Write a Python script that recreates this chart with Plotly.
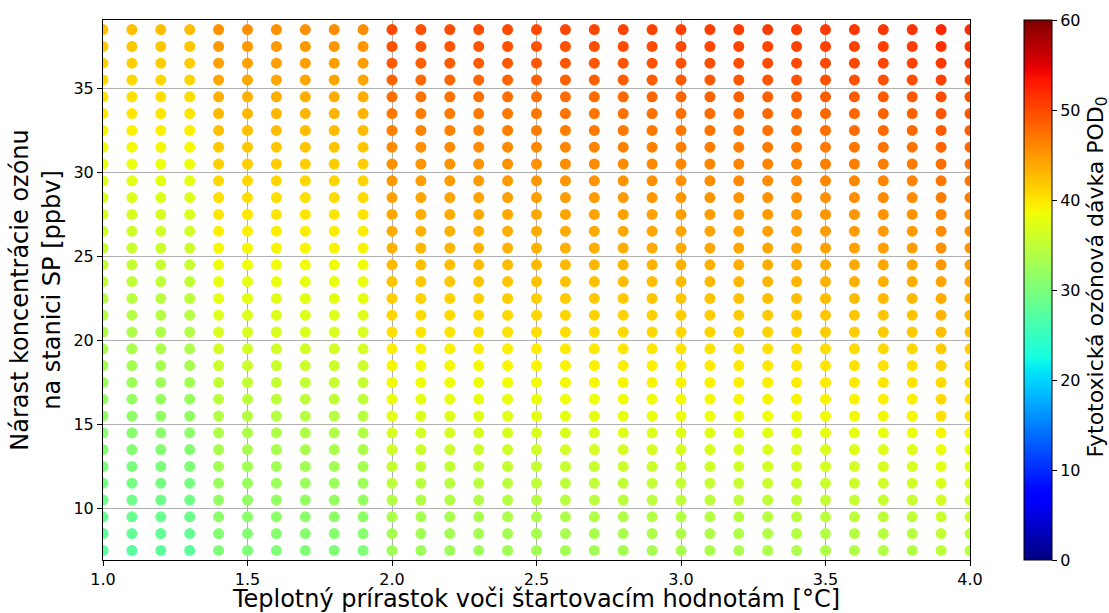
import numpy as np
import plotly.graph_objects as go

# x: temperature increment [°C]
x_vals = [1.0, 1.1, 1.2, 1.3, 1.4, 1.5, 1.6, 1.7, 1.8, 1.9, 2.0, 2.1, 2.2, 2.3, 2.4, 2.5,
          2.6, 2.7, 2.8, 2.9, 3.0, 3.1, 3.2, 3.3, 3.4, 3.5, 3.6, 3.7, 3.8, 3.9, 4.0]
# y: ozone concentration increase [ppbv]
y_vals = [7.5, 8.5, 9.5, 10.5, 11.5, 12.5, 13.5, 14.5, 15.5, 16.5, 17.5, 18.5, 19.5, 20.5, 21.5, 22.5,
          23.5, 24.5, 25.5, 26.5, 27.5, 28.5, 29.5, 30.5, 31.5, 32.5, 33.5, 34.5, 35.5, 36.5, 37.5, 38.5]

# POD0 values, one row per y value (bottom to top), one column per x value
pod0 = [
 [27.4,27.5,27.6,27.7, 30.2,30.2,30.3,30.3,30.4,30.4, 32.6,32.3,32.4,32.5,32.6,32.7,32.8,32.9,33.0,33.1,33.2,33.3,33.4,33.5,33.6,33.7,33.8,33.9,34.0,34.8,34.6],
 [27.9,28.0,28.1,28.2, 30.7,30.7,30.8,30.8,30.9,30.9, 33.0,32.7,32.8,32.9,33.0,33.1,33.2,33.3,33.4,33.5,33.6,33.7,33.8,33.9,34.0,34.1,34.2,34.3,34.4,35.2,35.0],
 [28.4,28.5,28.6,28.7, 31.2,31.2,31.3,31.3,31.4,31.4, 33.5,33.2,33.3,33.4,33.5,33.6,33.7,33.8,33.9,34.0,34.1,34.2,34.3,34.4,34.5,34.6,34.7,34.8,34.9,35.7,35.5],
 [28.9,29.0,29.1,29.2, 31.7,31.7,31.8,31.8,31.9,31.9, 34.1,33.8,33.9,34.0,34.1,34.2,34.3,34.4,34.5,34.6,34.7,34.8,34.9,35.0,35.1,35.2,35.3,35.4,35.5,36.3,36.1],
 [29.4,29.5,29.6,29.7, 32.2,32.2,32.3,32.3,32.4,32.4, 34.7,34.4,34.5,34.6,34.7,34.8,34.9,35.0,35.1,35.2,35.3,35.4,35.5,35.6,35.7,35.8,35.9,36.0,36.1,36.9,36.7],
 [29.9,30.0,30.1,30.2, 32.7,32.7,32.8,32.8,32.9,32.9, 35.3,35.0,35.1,35.2,35.3,35.4,35.5,35.6,35.7,35.8,35.9,36.0,36.1,36.2,36.3,36.4,36.5,36.6,36.7,37.5,37.3],
 [30.4,30.5,30.6,30.7, 33.2,33.2,33.3,33.3,33.4,33.4, 36.0,35.7,35.8,35.9,36.0,36.1,36.2,36.3,36.4,36.5,36.6,36.7,36.8,36.9,37.0,37.1,37.2,37.3,37.4,38.2,38.0],
 [30.9,31.0,31.1,31.2, 33.7,33.7,33.8,33.8,33.9,33.9, 36.7,36.4,36.5,36.6,36.7,36.8,36.9,37.0,37.1,37.2,37.3,37.4,37.5,37.6,37.7,37.8,37.9,38.0,38.1,38.9,38.7],
 [31.4,31.5,31.6,31.7, 34.2,34.2,34.3,34.3,34.4,34.4, 37.5,37.2,37.3,37.4,37.5,37.6,37.7,37.8,37.9,38.0,38.1,38.2,38.3,38.4,38.5,38.6,38.7,38.8,38.9,40.4,40.2],
 [31.9,32.0,32.1,32.2, 34.7,34.7,34.8,34.8,34.9,34.9, 38.1,37.8,37.9,38.0,38.1,38.2,38.3,38.4,38.5,38.6,38.7,38.8,38.9,39.0,39.1,39.2,39.3,39.4,39.5,40.8,40.4],
 [32.4,32.5,32.6,32.7, 35.2,35.2,35.3,35.3,35.4,35.4, 38.6,38.3,38.4,38.5,38.6,38.7,38.8,38.9,39.0,39.1,39.2,39.3,39.4,39.5,39.6,39.7,39.8,39.9,40.0,40.8,40.6],
 [32.9,33.0,33.1,33.2, 35.7,35.7,35.8,35.8,35.9,35.9, 39.0,38.7,38.8,38.9,39.0,39.1,39.2,39.3,39.4,39.5,39.6,39.7,39.8,39.9,40.0,40.1,40.2,40.3,40.4,41.2,41.0],
 [33.3,33.4,33.5,33.6, 36.2,36.2,36.3,36.3,36.4,36.4, 39.5,39.2,39.3,39.4,39.5,39.6,39.7,39.8,39.9,40.0,40.1,40.2,40.3,40.4,40.5,40.6,40.7,40.8,40.9,41.7,41.5],
 [33.6,33.7,33.8,33.9, 36.7,36.7,36.8,36.8,36.9,36.9, 40.4,40.1,40.2,40.3,40.4,40.5,40.6,40.7,40.8,40.9,41.0,41.1,41.2,41.3,41.4,41.5,41.6,41.7,41.8,42.6,42.4],
 [34.0,34.1,34.2,34.3, 37.1,37.1,37.2,37.2,37.3,37.3, 40.9,40.6,40.7,40.8,40.9,41.0,41.1,41.2,41.3,41.4,41.5,41.6,41.7,41.8,41.9,42.0,42.1,42.2,42.3,43.1,42.9],
 [34.4,34.5,34.6,34.7, 37.5,37.5,37.6,37.6,37.7,37.7, 41.5,41.2,41.3,41.4,41.5,41.6,41.7,41.8,41.9,42.0,42.1,42.2,42.3,42.4,42.5,42.6,42.7,42.8,42.9,43.7,43.5],
 [34.8,34.9,35.0,35.1, 37.9,37.9,38.0,38.0,38.1,38.1, 42.1,41.8,41.9,42.0,42.1,42.2,42.3,42.4,42.5,42.6,42.7,42.8,42.9,43.0,43.1,43.2,43.3,43.4,43.5,44.3,44.1],
 [35.2,35.3,35.4,35.5, 38.4,38.4,38.5,38.5,38.6,38.6, 42.7,42.4,42.5,42.6,42.7,42.8,42.9,43.0,43.1,43.2,43.3,43.4,43.5,43.6,43.7,43.8,43.9,44.0,44.1,44.9,44.7],
 [35.6,35.7,35.8,35.9, 38.9,38.9,39.0,39.0,39.1,39.1, 43.2,42.9,43.0,43.1,43.2,43.3,43.4,43.5,43.6,43.7,43.8,43.9,44.0,44.1,44.2,44.3,44.4,44.5,44.6,45.4,45.2],
 [36.0,36.1,36.2,36.3, 39.4,39.4,39.5,39.5,39.6,39.6, 43.5,43.2,43.3,43.4,43.5,43.6,43.7,43.8,43.9,44.0,44.1,44.2,44.3,44.4,44.5,44.6,44.7,44.8,44.9,45.7,45.5],
 [36.5,36.6,36.7,36.8, 39.9,39.9,40.0,40.0,40.1,40.1, 43.9,43.6,43.7,43.8,43.9,44.0,44.1,44.2,44.3,44.4,44.5,44.6,44.7,44.8,44.9,45.0,45.1,45.2,45.3,46.1,45.9],
 [37.0,37.1,37.2,37.3, 40.4,40.4,40.5,40.5,40.6,40.6, 44.4,44.1,44.2,44.3,44.4,44.5,44.6,44.7,44.8,44.9,45.0,45.1,45.2,45.3,45.4,45.5,45.6,45.7,45.8,46.6,46.4],
 [37.5,37.6,37.7,37.8, 40.9,40.9,41.0,41.0,41.1,41.1, 44.9,44.6,44.7,44.8,44.9,45.0,45.1,45.2,45.3,45.4,45.5,45.6,45.7,45.8,45.9,46.0,46.1,46.2,46.3,47.1,46.9],
 [38.0,38.1,38.2,38.3, 41.4,41.4,41.5,41.5,41.6,41.6, 45.4,45.1,45.2,45.3,45.4,45.5,45.6,45.7,45.8,45.9,46.0,46.1,46.2,46.3,46.4,46.5,46.6,46.7,46.8,47.6,47.4],
 [38.6,38.7,38.8,38.9, 41.9,41.9,42.0,42.0,42.1,42.1, 45.9,45.6,45.7,45.8,45.9,46.0,46.1,46.2,46.3,46.4,46.5,46.6,46.7,46.8,46.9,47.0,47.1,47.2,47.3,48.1,47.9],
 [39.2,39.3,39.4,39.5, 42.4,42.4,42.5,42.5,42.6,42.6, 46.5,46.2,46.3,46.4,46.5,46.6,46.7,46.8,46.9,47.0,47.1,47.2,47.3,47.4,47.5,47.6,47.7,47.8,47.9,48.7,48.5],
 [39.8,39.9,40.0,40.1, 42.9,42.9,43.0,43.0,43.1,43.1, 47.0,46.7,46.8,46.9,47.0,47.1,47.2,47.3,47.4,47.5,47.6,47.7,47.8,47.9,48.0,48.1,48.2,48.3,48.4,49.2,49.0],
 [40.3,40.4,40.5,40.6, 43.4,43.4,43.5,43.5,43.6,43.6, 47.6,47.3,47.4,47.5,47.6,47.7,47.8,47.9,48.0,48.1,48.2,48.3,48.4,48.5,48.6,48.7,48.8,48.9,49.0,49.8,49.6],
 [40.8,40.9,41.0,41.1, 43.9,43.9,44.0,44.0,44.1,44.1, 48.3,48.0,48.1,48.2,48.3,48.4,48.5,48.6,48.7,48.8,48.9,49.0,49.1,49.2,49.3,49.4,49.5,49.6,49.7,50.5,50.3],
 [41.3,41.4,41.5,41.6, 44.4,44.4,44.5,44.5,44.6,44.6, 48.9,48.6,48.7,48.8,48.9,49.0,49.1,49.2,49.3,49.4,49.5,49.6,49.7,49.8,49.9,50.0,50.1,50.2,50.3,51.1,50.9],
 [41.8,41.9,42.0,42.1, 44.9,44.9,45.0,45.0,45.1,45.1, 49.4,49.1,49.2,49.3,49.4,49.5,49.6,49.7,49.8,49.9,50.0,50.1,50.2,50.3,50.4,50.5,50.6,50.7,50.8,51.6,51.4],
 [42.3,42.4,42.5,42.6, 45.4,45.4,45.5,45.5,45.6,45.6, 49.9,49.6,49.7,49.8,49.9,50.0,50.1,50.2,50.3,50.4,50.5,50.6,50.7,50.8,50.9,51.0,51.1,51.2,51.3,52.1,51.9],
]

x_ticks = [1.0, 1.5, 2.0, 2.5, 3.0, 3.5, 4.0]
y_ticks = [10, 15, 20, 25, 30, 35]
cb_ticks = [0, 10, 20, 30, 40, 50, 60]

# matplotlib "jet" colormap
def jet_scale(n=101):
    t = np.linspace(0, 1, n)
    r = np.interp(t, [0, 0.35, 0.66, 0.89, 1], [0, 0, 1, 1, 0.5])
    g = np.interp(t, [0, 0.125, 0.375, 0.64, 0.91, 1], [0, 0, 1, 1, 0, 0])
    b = np.interp(t, [0, 0.11, 0.34, 0.65, 1], [0.5, 1, 1, 0, 0])
    return [[float(ti), f"rgb({int(round(ri*255))},{int(round(gi*255))},{int(round(bi*255))})"]
            for ti, ri, gi, bi in zip(t, r, g, b)]

xs, ys, cs = [], [], []
for i, yv in enumerate(y_vals):
    for j, xv in enumerate(x_vals):
        xs.append(xv)
        ys.append(yv)
        cs.append(pod0[i][j])

FONT = "DejaVu Sans"

fig = go.Figure(go.Scatter(
    x=xs, y=ys, mode="markers",
    marker=dict(
        size=11, color=cs, colorscale=jet_scale(), cmin=0, cmax=60,
        line=dict(width=0),
        colorbar=dict(
            thickness=28, len=1.0, lenmode="fraction", y=0.5, yanchor="middle",
            x=1.0623, xanchor="left", xpad=0, ypad=0,
            outlinewidth=1, outlinecolor="black",
            tickvals=cb_ticks, ticks="outside", ticklen=5, tickwidth=1, tickcolor="black",
            tickfont=dict(family=FONT, size=16, color="black"),
        ),
    ),
    hoverinfo="skip",
))

axis_common = dict(
    showgrid=True, gridcolor="#b0b0b0", gridwidth=0.8,
    showline=True, linecolor="black", linewidth=1, mirror=True,
    ticks="outside", ticklen=5, tickwidth=1, tickcolor="black",
    zeroline=False, automargin=False,
    tickfont=dict(family=FONT, size=16, color="black"),
)

fig.update_layout(
    width=1109, height=613,
    margin=dict(l=103, r=139, t=20, b=53),
    paper_bgcolor="white", plot_bgcolor="white",
    font=dict(family=FONT, color="black"),
    xaxis=dict(
        range=[1.0, 4.0], tickvals=x_ticks, ticktext=[f"{v:.1f}" for v in x_ticks],
        title=dict(text="Teplotný prírastok voči štartovacím hodnotám [°C]",
                   font=dict(family=FONT, size=24, color="black"), standoff=3),
        **axis_common,
    ),
    yaxis=dict(
        range=[6.93, 39.07], tickvals=y_ticks,
        title=dict(text="Nárast koncentrácie ozónu<br>na stanici SP [ppbv]",
                   font=dict(family=FONT, size=24, color="black"), standoff=6),
        **axis_common,
    ),
    annotations=[dict(
        text="Fytotoxická ozónová dávka POD<sub>0</sub>",
        xref="paper", yref="paper", x=1.146, y=0.524,
        xanchor="center", yanchor="middle", textangle=-90, showarrow=False,
        font=dict(family=FONT, size=22, color="black"),
    )],
    showlegend=False,
)

fig.write_html(
    "out.html",
    config={"displayModeBar": False},
    post_script="document.body.style.margin='0';document.body.style.padding='0';",
)
